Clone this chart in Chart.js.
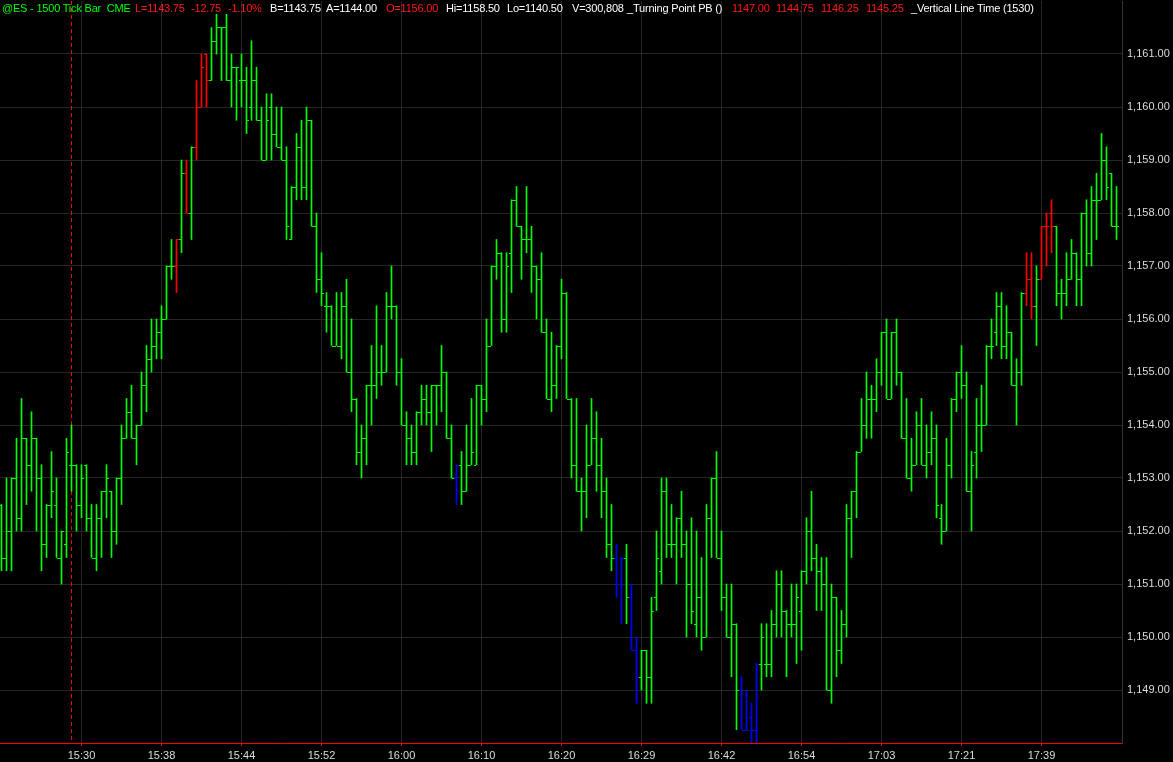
<!DOCTYPE html>
<html>
<head>
<meta charset="utf-8">
<title>@ES - 1500 Tick Bar</title>
<script src="https://cdn.jsdelivr.net/npm/chart.js@4.4.1/dist/chart.umd.min.js"></script>
<style>
    html, body { margin: 0; padding: 0; background: #000; overflow: hidden; }
    #wrap { position: relative; width: 1173px; height: 762px; }
    #header { position: absolute; left: 0; top: 0; width: 1173px; height: 16px;
              font: 11px "Liberation Sans", Arial, sans-serif; letter-spacing: -0.2px; white-space: pre; }
    #header span { position: absolute; top: 2px; }
    .g { color: #00ff00; } .r { color: #ff1a1a; } .w { color: #ffffff; }
</style>
</head>
<body>
<div id="wrap">
    <canvas id="chart" width="1173" height="762"></canvas>
    <div id="header">
        <span class="g" style="left:2px">@ES - 1500 Tick Bar  CME</span>
        <span class="r" style="left:135px">L=1143.75</span>
        <span class="r" style="left:191px">-12.75</span>
        <span class="r" style="left:228px">-1.10%</span>
        <span class="w" style="left:270px">B=1143.75</span>
        <span class="w" style="left:326px">A=1144.00</span>
        <span class="r" style="left:386px">O=1156.00</span>
        <span class="w" style="left:446px">Hi=1158.50</span>
        <span class="w" style="left:507px">Lo=1140.50</span>
        <span class="w" style="left:572px">V=300,808</span>
        <span class="w" style="left:627px">_Turning Point PB ()</span>
        <span class="r" style="left:732px">1147.00</span>
        <span class="r" style="left:776px">1144.75</span>
        <span class="r" style="left:821px">1146.25</span>
        <span class="r" style="left:866px">1145.25</span>
        <span class="w" style="left:911px">_Vertical Line Time (1530)</span>
    </div>
</div>
<script>
'use strict';

/* 1500-tick OHLC bars, oldest first */
var opens = [
    1152.5,1151.5,1152,1153,1152.25,1153.75,1153.25,1153.75,1153,1151.75,
    1152.5,1152.5,1151.5,1151.75,1153.25,1153.25,1152.5,1153.25,1152.25,1151.5,
    1152.25,1152.75,1152.75,1152,1153,1153.75,1154.25,1153.75,1154,1154.75,
    1155.25,1155.5,1155.75,1156,1157,1157,1157.5,1158.75,1158,1159.25,
    1160,1161,1160.5,1161.25,1161.5,1161.5,1160.5,1160.75,1160.5,1160.5,
    1160,1160.5,1159.75,1159,1160,1159.5,1159.25,1159,1157.5,1158.5,
    1159.25,1158.5,1159.75,1157.75,1156.75,1156.25,1156.25,1155.5,1155.5,1156.25,
    1155,1154.5,1153.5,1153.75,1154.75,1154.75,1155,1155,1156.25,1156.25,
    1155,1154,1153.75,1153.5,1154.25,1154.5,1154.25,1154.75,1154.75,1155,
    1153.75,1153,1153.25,1152.75,1153.25,1153.25,1154.75,1154.5,1155.5,1157,
    1157.25,1156,1157.25,1158.25,1157.75,1157.5,1157.5,1157,1156.75,1155.75,
    1154.5,1154.75,1155.5,1156.5,1154.5,1153.25,1152.75,1152.75,1153.25,1153.75,
    1153.25,1152.75,1151.75,1151.5,1151,1151.5,1150.75,1149.75,1149.25,1149.75,
    1149.25,1150.75,1151.25,1152.75,1151.75,1151.75,1152.25,1151.75,1151,1150.25,
    1150.75,1150,1152.25,1153,1151.5,1150.75,1150,1150.25,1149,1148.25,
    1148.5,1148.25,1149.5,1149.5,1149.5,1150.25,1151,1150.5,1150.25,1150.25,
    1150.5,1151.25,1152,1151.5,1151.25,1151,1149,1150.75,1149.75,1150.25,
    1152.25,1152.75,1153.5,1154,1154.5,1154.5,1155,1155.75,1154.5,1155.75,
    1155,1153.75,1153,1153.25,1154,1153.25,1153.5,1153.75,1152.25,1152,
    1153.25,1154.5,1155,1154.75,1152.75,1153.5,1154,1154,1155.5,1155.75,
    1156.25,1155.5,1155.75,1154.75,1155,1156.5,1156.75,1156.25,1156.75,1157.75,
    1158,1157.75,1156.5,1156.5,1156.75,1157.25,1156.75,1158,1157.25,1158.25,
    1158.25,1159,1158.75,1157.75
];
var highs = [
    1152.5,1153,1153,1153.75,1154.5,1153.75,1154.25,1153.75,1153.25,1152.5,
    1153.5,1153,1152,1153.75,1154,1153.25,1153.25,1153.25,1152.5,1152.5,
    1152.75,1153.25,1152.75,1153,1154,1154.5,1154.75,1154,1155,1155.5,
    1156,1156,1156.25,1157,1157.5,1157.5,1159,1159,1159.25,1160.5,
    1161,1161,1161.5,1161.75,1161.5,1161.75,1161,1160.75,1161,1160.75,
    1161.25,1160.75,1160,1160.25,1160.25,1160,1160,1159.25,1158.5,1159.5,
    1159.75,1160,1159.75,1158,1157.25,1156.5,1156.25,1156.5,1156.5,1156.75,
    1156,1154.5,1154,1154.75,1155.5,1156.25,1155.5,1156.5,1157,1156.25,
    1155.25,1154.25,1154,1154.25,1154.75,1154.75,1154.75,1154.75,1155.5,1155,
    1154,1153.25,1153.5,1154,1154.5,1154.75,1154.75,1156,1157,1157.5,
    1157.25,1157.25,1158.25,1158.5,1157.75,1158.5,1157.75,1157,1157.25,1156,
    1155.75,1155.5,1156.75,1156.5,1154.5,1154.5,1153,1154,1154.5,1154.25,
    1153.75,1153,1152.5,1151.75,1151.5,1151.75,1151,1150,1149.75,1149.75,
    1150.75,1152,1153,1153,1152.5,1152.25,1152.75,1152,1152.25,1152,
    1151.5,1152.5,1153,1153.5,1152,1151,1151,1150.25,1149.25,1149,
    1148.75,1149.5,1150.25,1150.25,1150.5,1151.25,1151.25,1150.5,1151,1151,
    1151.25,1152.25,1152.75,1151.75,1151.5,1151.5,1151,1150.75,1150.5,1152.5,
    1152.75,1153.5,1154.5,1155,1154.75,1155.25,1155.75,1156,1155.75,1156,
    1155,1154.5,1153.75,1154.25,1154.5,1154,1154.25,1154,1152.5,1153.75,
    1154.5,1155,1155.5,1155,1153.5,1154.5,1154.75,1155.5,1156,1156.5,
    1156.5,1156.25,1155.75,1155.25,1156.5,1157.25,1157.25,1157,1157.75,1158,
    1158.25,1157.75,1156.75,1157.25,1157.5,1157.25,1158,1158.25,1158.5,1158.75,
    1159.5,1159.25,1158.75,1158.5
];
var lows = [
    1151.25,1151.25,1151.25,1152,1152,1152.5,1152.75,1152,1151.25,1151.5,
    1152.25,1151.5,1151,1151.5,1152.75,1152,1152.25,1152,1151.5,1151.25,
    1151.5,1152.25,1151.5,1151.75,1152.5,1153.75,1153.75,1153.25,1154,1154.25,
    1155,1155.25,1155.25,1156,1156.75,1156.5,1157.25,1158,1157.5,1159,
    1160,1160,1160.5,1161,1160.5,1160.5,1160,1159.75,1160,1159.5,
    1159.75,1159.75,1159,1159,1159,1159.25,1159,1157.5,1157.5,1158.25,
    1158.25,1158.25,1157.75,1156.5,1156.25,1155.75,1155.5,1155.5,1155.25,1155,
    1154.25,1153.25,1153,1153.25,1154,1154.5,1154.75,1155,1156,1154.75,
    1154,1153.25,1153.25,1153.25,1154,1154,1153.5,1154,1154.25,1153.75,
    1153,1152.5,1152.5,1152.75,1153.25,1153.25,1154,1154.25,1155.5,1156.75,
    1155.75,1155.75,1156.5,1157.75,1156.75,1157.25,1156.5,1156,1155.75,1154.5,
    1154.25,1154.5,1155.25,1154.5,1153,1152.75,1152,1152.25,1153.25,1152.75,
    1152.25,1151.5,1151.25,1150.75,1150.25,1150.25,1149.75,1148.75,1149,1148.75,
    1148.75,1150.5,1151,1151.5,1151.5,1151,1151.5,1150,1150.25,1150,
    1149.75,1150,1151.5,1151.5,1150.5,1150,1149.25,1148.25,1148.25,1148.25,
    1148,1148,1149,1149.25,1149.25,1150,1150,1149.25,1150,1149.5,
    1149.75,1151,1151.25,1150.5,1150.5,1149,1148.75,1149.25,1149.5,1150,
    1151.5,1152.25,1153.5,1153.75,1153.75,1154.25,1154.75,1154.5,1154.5,1154.75,
    1153.75,1153,1152.75,1153.25,1153.25,1153,1153.25,1152.25,1151.75,1152,
    1153,1154.25,1154.5,1152.75,1152,1153,1153.5,1154,1155.25,1155.5,
    1155.25,1155.25,1154.75,1154,1154.75,1156.25,1156,1155.5,1156.75,1157,
    1157.25,1156.25,1156,1156.25,1156.75,1156.25,1156.25,1157,1157,1157.5,
    1158.25,1158.25,1157.75,1157.5
];
var closes = [
    1151.5,1152,1153,1152.25,1153.75,1153.25,1153.75,1153,1151.75,1152.5,
    1152.75,1151.5,1152,1153.5,1153.25,1152.5,1153,1152.25,1151.5,1152.25,
    1152.75,1153,1152,1153,1153.75,1154.25,1153.75,1154,1154.75,1155.25,
    1155.5,1155.75,1156,1157,1157,1157.5,1158.75,1158,1159.25,1160,
    1160.75,1160.5,1161.25,1161.5,1161.5,1160.5,1160.75,1160.75,1160.5,1159.75,
    1160.5,1159.75,1159,1159.75,1159.5,1159.25,1159,1157.75,1158.5,1159.25,
    1158.5,1159.75,1157.75,1156.75,1156.5,1156.25,1155.5,1155.5,1156.25,1155,
    1154.5,1153.5,1153.75,1154.75,1154.75,1155,1155,1156.25,1156.25,1155,
    1154,1153.75,1153.5,1154.25,1154.5,1154.25,1154.75,1154.75,1155,1153.75,
    1153,1153.25,1152.75,1153.25,1153.5,1154.75,1154.5,1155.5,1157,1157.25,
    1156,1157,1158.25,1157.75,1157.5,1157.5,1157,1156.75,1155.75,1154.5,
    1154.75,1155.5,1156.5,1154.5,1153.25,1152.75,1152.75,1153.25,1153.75,1153.25,
    1152.75,1151.75,1151.5,1151,1151.5,1150.75,1149.75,1149.25,1149.75,1149.25,
    1150.5,1151.5,1152.75,1151.75,1151.75,1152.25,1151.75,1151,1150.5,1150.75,
    1150,1152.25,1153,1151.5,1150.75,1150,1150.25,1149,1148.25,1148.25,
    1148.25,1149.5,1150,1149.5,1150.25,1151,1150.5,1150.25,1150.25,1150.75,
    1151.25,1152,1151.5,1151.25,1151,1149,1150.75,1149.75,1150.25,1152.25,
    1152.75,1153.5,1154,1154.5,1154.5,1155,1155.75,1154.5,1155.75,1155,
    1153.75,1153,1153.25,1154,1153.25,1153.5,1153.75,1152.5,1152,1153.25,
    1154.5,1155,1154.75,1152.75,1153.25,1154,1154,1155.5,1155.5,1156.25,
    1155.5,1155.75,1154.75,1155,1156.5,1156.75,1156.25,1156.75,1157.75,1157.75,
    1157.75,1156.5,1156.5,1156.75,1157.25,1156.75,1158,1157.25,1158.25,1158.25,
    1159,1158.5,1157.75,1157.75
];

/* Turning Point PB colouring: bar indexes painted red / blue */
var redBars  = [35, 37, 39, 40, 41, 205, 206, 208, 209, 210];
var blueBars = [91, 123, 124, 126, 127, 148, 149, 150, 151];

/* Time axis: bar index of each labelled time */
var timeBars   = [16, 32, 48, 64, 80, 96, 112, 128, 144, 160, 176, 192, 208];
var timeLabels = ['15:30', '15:38', '15:44', '15:52', '16:00', '16:10', '16:20',
                  '16:29', '16:42', '16:54', '17:03', '17:21', '17:39'];

/* Price axis labels */
var priceTicks = [1149, 1150, 1151, 1152, 1153, 1154, 1155, 1156, 1157, 1158, 1159, 1160, 1161];

/* Vertical Line Time (1530) sits on this bar */
var vlineBar = 14;

(function () {
    var colors = highs.map(function (h, i) {
        if (redBars.indexOf(i) >= 0) return '#ff0000';
        if (blueBars.indexOf(i) >= 0) return '#0000ff';
        return '#00ff00';
    });

    var rangeData = highs.map(function (h, i) { return { x: i, y: [lows[i], h] }; });

    /* dashed time line behind the bars, open tick left / close tick right on top */
    var ohlcTicks = {
        id: 'ohlcTicks',
        beforeDatasetsDraw: function (chart) {
            var ctx = chart.ctx, x = chart.scales.x, a = chart.chartArea;
            var px = Math.floor(x.getPixelForValue(vlineBar)) + 0.5;
            ctx.save();
            ctx.strokeStyle = '#e01010';
            ctx.lineWidth = 1;
            ctx.setLineDash([4, 3]);
            ctx.beginPath();
            ctx.moveTo(px, a.top);
            ctx.lineTo(px, a.bottom);
            ctx.stroke();
            ctx.restore();
        },
        afterDatasetsDraw: function (chart) {
            var ctx = chart.ctx, x = chart.scales.x, y = chart.scales.y;
            ctx.save();
            for (var i = 0; i < opens.length; i++) {
                var px = Math.floor(x.getPixelForValue(i));
                ctx.fillStyle = colors[i];
                ctx.fillRect(px - 2, Math.round(y.getPixelForValue(opens[i])), 2, 1);
                ctx.fillRect(px + 1, Math.round(y.getPixelForValue(closes[i])), 2, 1);
            }
            ctx.restore();
        }
    };

    Chart.defaults.font.family = '"Liberation Sans", Arial, sans-serif';

    new Chart(document.getElementById('chart').getContext('2d'), {
        type: 'bar',
        data: {
            datasets: [{
                data: rangeData,
                backgroundColor: colors,
                borderWidth: 0,
                borderSkipped: false,
                barThickness: 1,
                grouped: false
            }]
        },
        options: {
            responsive: false,
            animation: false,
            events: [],
            layout: { padding: { top: 1, left: 0, right: 0, bottom: 0 } },
            plugins: { legend: { display: false }, tooltip: { enabled: false } },
            scales: {
                x: {
                    type: 'linear',
                    offset: false,
                    min: -0.3,
                    max: 224.1,
                    afterBuildTicks: function (s) {
                        s.ticks = timeBars.map(function (v) { return { value: v }; });
                    },
                    afterFit: function (s) {
                        s.height = 19; s.paddingLeft = 0; s.paddingRight = 0;
                    },
                    ticks: {
                        autoSkip: false,
                        maxRotation: 0,
                        padding: 3,
                        color: '#dcdcdc',
                        font: { size: 11 },
                        callback: function (v) { return timeLabels[timeBars.indexOf(v)]; }
                    },
                    grid: { offset: false, color: '#262626', tickColor: '#ff0000', tickLength: 3 },
                    border: { color: '#ff0000' }
                },
                y: {
                    position: 'right',
                    min: 1148,
                    max: 1162,
                    afterBuildTicks: function (s) {
                        s.ticks = priceTicks.map(function (v) { return { value: v }; });
                    },
                    afterFit: function (s) {
                        s.width = 51; s.paddingTop = 0; s.paddingBottom = 0;
                    },
                    ticks: {
                        padding: 5,
                        color: '#dcdcdc',
                        font: { size: 11 },
                        callback: function (v) {
                            return Number(v).toLocaleString('en-US', { minimumFractionDigits: 2, maximumFractionDigits: 2 });
                        }
                    },
                    grid: { color: '#262626', drawTicks: false },
                    border: { color: '#333333' }
                }
            }
        },
        plugins: [ohlcTicks]
    });
})();
</script>
</body>
</html>
